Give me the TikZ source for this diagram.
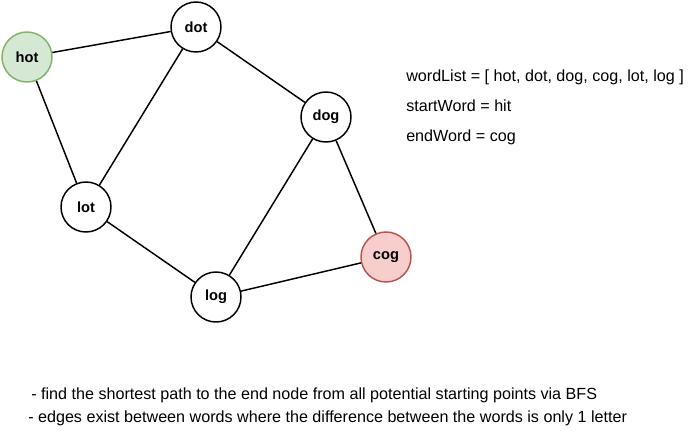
\documentclass[tikz,border=0pt]{standalone}
\usepackage{fontspec}
\setmainfont{Liberation Sans}
\usepackage{tikz}

\definecolor{startfill}{HTML}{D5E8D4}
\definecolor{startline}{HTML}{82B366}
\definecolor{endfill}{HTML}{F8CECC}
\definecolor{endline}{HTML}{B85450}

\begin{document}
\begin{tikzpicture}[x=0.75pt,y=-0.75pt,
  word/.style={circle,draw,line width=1.1pt,fill=white,minimum size=37.5pt,inner sep=0pt,font=\fontsize{11}{13}\selectfont\bfseries},
  note/.style={anchor=west,inner sep=0pt,font=\fontsize{12.1}{14}\selectfont},
  edge/.style={line width=1.1pt}]
  \useasboundingbox (0,0) rectangle (696,433);
  \node [word,fill=startfill,draw=startline] (hot) at (27,57) {hot};
  \node [word] (dot) at (196,27) {dot};
  \node [word] (dog) at (326,117) {dog};
  \node [word] (lot) at (86,207) {lot};
  \node [word] (log) at (216,297) {log};
  \node [word,fill=endfill,draw=endline] (cog) at (386,257) {cog};
  \draw [edge] (hot) -- (dot);
  \draw [edge] (hot) -- (lot);
  \draw [edge] (dot) -- (lot);
  \draw [edge] (dot) -- (dog);
  \draw [edge] (dog) -- (log);
  \draw [edge] (dog) -- (cog);
  \draw [edge] (lot) -- (log);
  \draw [edge] (log) -- (cog);
  % problem statement
  \node [note] (list) at (406,77) {wordList = [ hot, dot, dog, cog, lot, log ]};
  \node [note] (start) at (406,106) {startWord = hit};
  \node [note] (end) at (406,137) {endWord = cog};
  \node [note] (bfs) at (31,395) {- find the shortest path to the end node from all potential starting points via BFS};
  \node [note] (edges) at (28,418) {- edges exist between words where the difference between the words is only 1 letter};
\end{tikzpicture}
\end{document}
